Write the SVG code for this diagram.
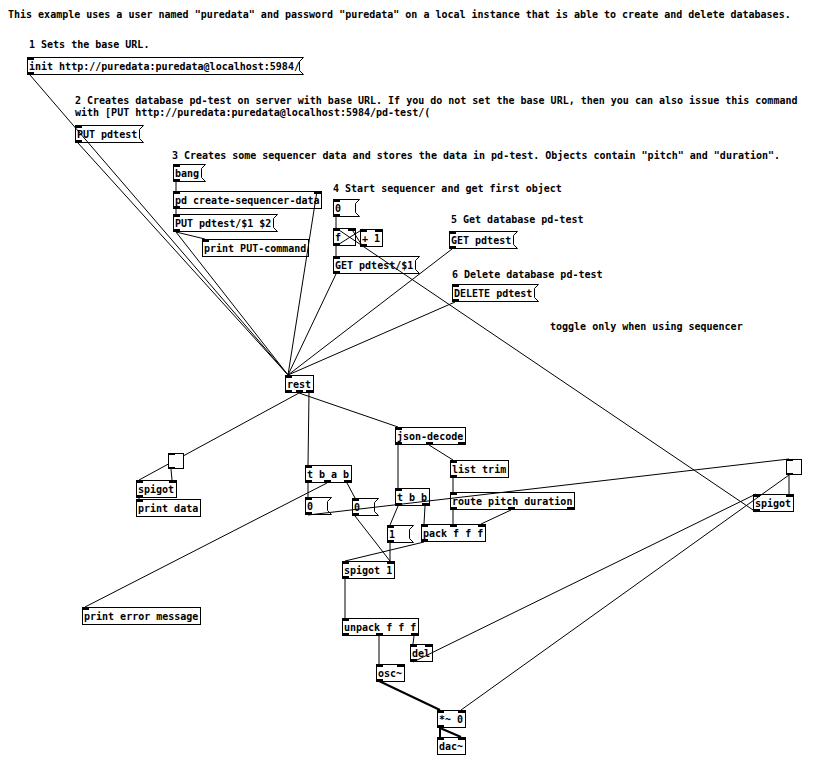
<svg xmlns="http://www.w3.org/2000/svg" width="832" height="783" viewBox="0 0 832 783">
<style>
.t{font-family:"DejaVu Sans Mono","Liberation Mono",monospace;font-size:10px;font-weight:bold;fill:#000}
.b{fill:none;stroke:#000;stroke-width:1}
.g{fill:#fcfcfc;stroke:#000;stroke-width:1}
.p{fill:#000}
.c line{stroke:#000;stroke-width:1}
.c line.s{stroke-width:2}
</style>
<rect width="832" height="783" fill="#fff"/>
<g id="comments">
<text class="t" x="8" y="18">This example uses a user named "puredata" and password "puredata" on a local instance that is able to create and delete databases.</text>
<text class="t" x="29" y="48">1 Sets the base URL.</text>
<text class="t" x="75" y="104">2 Creates database pd-test on server with base URL. If you do not set the base URL, then you can also issue this command</text>
<text class="t" x="75" y="116">with [PUT http://puredata:puredata@localhost:5984/pd-test/(</text>
<text class="t" x="172" y="159">3 Creates some sequencer data and stores the data in pd-test. Objects contain "pitch" and "duration".</text>
<text class="t" x="333" y="192">4 Start sequencer and get first object</text>
<text class="t" x="451" y="223">5 Get database pd-test</text>
<text class="t" x="452" y="278">6 Delete database pd-test</text>
<text class="t" x="550" y="330">toggle only when using sequencer</text>
</g>
<g id="connections" class="c">
<line x1="30" y1="75" x2="288" y2="375"/>
<line x1="78" y1="143" x2="288" y2="375"/>
<line x1="176" y1="182" x2="176" y2="191"/>
<line x1="176" y1="209" x2="176" y2="214"/>
<line x1="176" y1="232" x2="288" y2="375"/>
<line x1="176" y1="232" x2="205" y2="239"/>
<line x1="317" y1="191" x2="288" y2="375"/>
<line x1="336" y1="217" x2="336" y2="228"/>
<line x1="336" y1="246" x2="336" y2="256"/>
<line x1="336" y1="246" x2="363" y2="229"/>
<line x1="363" y1="247" x2="351" y2="228"/>
<line x1="336" y1="274" x2="288" y2="375"/>
<line x1="452" y1="249" x2="288" y2="375"/>
<line x1="455" y1="302" x2="288" y2="375"/>
<line x1="756" y1="512" x2="336" y2="228"/>
<line x1="299" y1="393" x2="139" y2="480"/>
<line x1="299" y1="393" x2="398" y2="427"/>
<line x1="309" y1="393" x2="308" y2="465"/>
<line x1="171" y1="469" x2="172" y2="480"/>
<line x1="139" y1="498" x2="139" y2="499"/>
<line x1="308" y1="483" x2="308" y2="497"/>
<line x1="327" y1="483" x2="85" y2="607"/>
<line x1="347" y1="483" x2="355" y2="498"/>
<line x1="308" y1="515" x2="789" y2="459"/>
<line x1="355" y1="516" x2="390" y2="561"/>
<line x1="398" y1="445" x2="398" y2="488"/>
<line x1="429" y1="445" x2="453" y2="460"/>
<line x1="453" y1="478" x2="453" y2="492"/>
<line x1="453" y1="510" x2="453" y2="524"/>
<line x1="511" y1="510" x2="481" y2="524"/>
<line x1="398" y1="506" x2="390" y2="525"/>
<line x1="425" y1="506" x2="424" y2="524"/>
<line x1="390" y1="543" x2="390" y2="561"/>
<line x1="424" y1="542" x2="345" y2="561"/>
<line x1="345" y1="579" x2="345" y2="618"/>
<line x1="379" y1="636" x2="379" y2="664"/>
<line x1="414" y1="636" x2="413" y2="644"/>
<line x1="413" y1="662" x2="756" y2="494"/>
<line class="s" x1="379" y1="681" x2="440" y2="710"/>
<line class="s" x1="440" y1="728" x2="440" y2="737"/>
<line class="s" x1="440" y1="728" x2="461" y2="737"/>
<line x1="789" y1="475" x2="789" y2="494"/>
<line x1="789" y1="475" x2="461" y2="710"/>
</g>
<g id="msg_init"><path class="b" d="M27.5 57.5H303.5L299.5 61.5V70.5L303.5 74.5H27.5Z"/><rect class="p" x="27" y="57" width="7" height="3"/><rect class="p" x="27" y="72" width="7" height="3"/><text class="t" x="29" y="69.5">init http://puredata:puredata@localhost:5984/</text></g>
<g id="msg_put_pdtest"><path class="b" d="M75.5 125.5H143.5L139.5 129.5V138.5L143.5 142.5H75.5Z"/><rect class="p" x="75" y="125" width="7" height="3"/><rect class="p" x="75" y="140" width="7" height="3"/><text class="t" x="77" y="137.5">PUT pdtest</text></g>
<g id="msg_bang"><path class="b" d="M173.5 164.5H205.5L201.5 168.5V177.5L205.5 181.5H173.5Z"/><rect class="p" x="173" y="164" width="7" height="3"/><rect class="p" x="173" y="179" width="7" height="3"/><text class="t" x="175" y="176.5">bang</text></g>
<g id="obj_pd_create"><rect class="b" x="173.5" y="191.5" width="148" height="17"/><rect class="p" x="173" y="191" width="7" height="3"/><rect class="p" x="314" y="191" width="7" height="3"/><rect class="p" x="173" y="206" width="7" height="3"/><text class="t" x="175" y="203.5">pd create-sequencer-data</text></g>
<g id="msg_put_seq"><path class="b" d="M173.5 214.5H277.5L273.5 218.5V227.5L277.5 231.5H173.5Z"/><rect class="p" x="173" y="214" width="7" height="3"/><rect class="p" x="173" y="229" width="7" height="3"/><text class="t" x="175" y="226.5">PUT pdtest/$1 $2</text></g>
<g id="obj_print_put"><rect class="b" x="202.5" y="239.5" width="106" height="17"/><rect class="p" x="202" y="239" width="7" height="3"/><text class="t" x="204" y="251.5">print PUT-command</text></g>
<g id="msg_0_seq"><path class="b" d="M333.5 199.5H359.5L355.5 203.5V212.5L359.5 216.5H333.5Z"/><rect class="p" x="333" y="199" width="7" height="3"/><rect class="p" x="333" y="214" width="7" height="3"/><text class="t" x="335" y="211.5">0</text></g>
<g id="obj_f"><rect class="b" x="333.5" y="228.5" width="22" height="17"/><rect class="p" x="333" y="228" width="7" height="3"/><rect class="p" x="348" y="228" width="7" height="3"/><rect class="p" x="333" y="243" width="7" height="3"/><text class="t" x="335" y="240.5">f</text></g>
<g id="obj_plus1"><rect class="b" x="360.5" y="229.5" width="22" height="17"/><rect class="p" x="360" y="229" width="7" height="3"/><rect class="p" x="375" y="229" width="7" height="3"/><rect class="p" x="360" y="244" width="7" height="3"/><text class="t" x="362" y="241.5">+ 1</text></g>
<g id="msg_get_seq"><path class="b" d="M333.5 256.5H419.5L415.5 260.5V269.5L419.5 273.5H333.5Z"/><rect class="p" x="333" y="256" width="7" height="3"/><rect class="p" x="333" y="271" width="7" height="3"/><text class="t" x="335" y="268.5">GET pdtest/$1</text></g>
<g id="msg_get"><path class="b" d="M449.5 231.5H517.5L513.5 235.5V244.5L517.5 248.5H449.5Z"/><rect class="p" x="449" y="231" width="7" height="3"/><rect class="p" x="449" y="246" width="7" height="3"/><text class="t" x="451" y="243.5">GET pdtest</text></g>
<g id="msg_delete"><path class="b" d="M452.5 284.5H538.5L534.5 288.5V297.5L538.5 301.5H452.5Z"/><rect class="p" x="452" y="284" width="7" height="3"/><rect class="p" x="452" y="299" width="7" height="3"/><text class="t" x="454" y="296.5">DELETE pdtest</text></g>
<g id="obj_rest"><rect class="b" x="285.5" y="375.5" width="28" height="17"/><rect class="p" x="285" y="375" width="7" height="3"/><rect class="p" x="285" y="390" width="7" height="3"/><rect class="p" x="296" y="390" width="7" height="3"/><rect class="p" x="306" y="390" width="7" height="3"/><text class="t" x="287" y="387.5">rest</text></g>
<g id="obj_json_decode"><rect class="b" x="395.5" y="427.5" width="70" height="17"/><rect class="p" x="395" y="427" width="7" height="3"/><rect class="p" x="395" y="442" width="7" height="3"/><rect class="p" x="426" y="442" width="7" height="3"/><rect class="p" x="458" y="442" width="7" height="3"/><text class="t" x="397" y="439.5">json-decode</text></g>
<g id="obj_list_trim"><rect class="b" x="450.5" y="460.5" width="58" height="17"/><rect class="p" x="450" y="460" width="7" height="3"/><rect class="p" x="450" y="475" width="7" height="3"/><text class="t" x="452" y="472.5">list trim</text></g>
<g id="tgl_left"><rect class="g" x="168.5" y="453.5" width="15" height="15"/><rect class="p" x="168" y="453" width="7" height="2"/><rect class="p" x="168" y="467" width="7" height="2"/></g>
<g id="obj_spigot_left"><rect class="b" x="136.5" y="480.5" width="40" height="17"/><rect class="p" x="136" y="480" width="7" height="3"/><rect class="p" x="169" y="480" width="7" height="3"/><rect class="p" x="136" y="495" width="7" height="3"/><text class="t" x="138" y="492.5">spigot</text></g>
<g id="obj_print_data"><rect class="b" x="136.5" y="499.5" width="64" height="17"/><rect class="p" x="136" y="499" width="7" height="3"/><text class="t" x="138" y="511.5">print data</text></g>
<g id="obj_t_b_a_b"><rect class="b" x="305.5" y="465.5" width="46" height="17"/><rect class="p" x="305" y="465" width="7" height="3"/><rect class="p" x="305" y="480" width="7" height="3"/><rect class="p" x="324" y="480" width="7" height="3"/><rect class="p" x="344" y="480" width="7" height="3"/><text class="t" x="307" y="477.5">t b a b</text></g>
<g id="msg_0_a"><path class="b" d="M305.5 497.5H331.5L327.5 501.5V510.5L331.5 514.5H305.5Z"/><rect class="p" x="305" y="497" width="7" height="3"/><rect class="p" x="305" y="512" width="7" height="3"/><text class="t" x="307" y="509.5">0</text></g>
<g id="msg_0_b"><path class="b" d="M352.5 498.5H378.5L374.5 502.5V511.5L378.5 515.5H352.5Z"/><rect class="p" x="352" y="498" width="7" height="3"/><rect class="p" x="352" y="513" width="7" height="3"/><text class="t" x="354" y="510.5">0</text></g>
<g id="obj_t_b_b"><rect class="b" x="395.5" y="488.5" width="34" height="17"/><rect class="p" x="395" y="488" width="7" height="3"/><rect class="p" x="395" y="503" width="7" height="3"/><rect class="p" x="422" y="503" width="7" height="3"/><text class="t" x="397" y="500.5">t b b</text></g>
<g id="obj_route"><rect class="b" x="450.5" y="492.5" width="124" height="17"/><rect class="p" x="450" y="492" width="7" height="3"/><rect class="p" x="450" y="507" width="7" height="3"/><rect class="p" x="508" y="507" width="7" height="3"/><rect class="p" x="567" y="507" width="7" height="3"/><text class="t" x="452" y="504.5">route pitch duration</text></g>
<g id="msg_1"><path class="b" d="M387.5 525.5H413.5L409.5 529.5V538.5L413.5 542.5H387.5Z"/><rect class="p" x="387" y="525" width="7" height="3"/><rect class="p" x="387" y="540" width="7" height="3"/><text class="t" x="389" y="537.5">1</text></g>
<g id="obj_pack"><rect class="b" x="421.5" y="524.5" width="64" height="17"/><rect class="p" x="421" y="524" width="7" height="3"/><rect class="p" x="450" y="524" width="7" height="3"/><rect class="p" x="478" y="524" width="7" height="3"/><rect class="p" x="421" y="539" width="7" height="3"/><text class="t" x="423" y="536.5">pack f f f</text></g>
<g id="obj_spigot1"><rect class="b" x="342.5" y="561.5" width="52" height="17"/><rect class="p" x="342" y="561" width="7" height="3"/><rect class="p" x="387" y="561" width="7" height="3"/><rect class="p" x="342" y="576" width="7" height="3"/><text class="t" x="344" y="573.5">spigot 1</text></g>
<g id="obj_print_error"><rect class="b" x="82.5" y="607.5" width="118" height="17"/><rect class="p" x="82" y="607" width="7" height="3"/><text class="t" x="84" y="619.5">print error message</text></g>
<g id="obj_unpack"><rect class="b" x="342.5" y="618.5" width="76" height="17"/><rect class="p" x="342" y="618" width="7" height="3"/><rect class="p" x="342" y="633" width="7" height="3"/><rect class="p" x="376" y="633" width="7" height="3"/><rect class="p" x="411" y="633" width="7" height="3"/><text class="t" x="344" y="630.5">unpack f f f</text></g>
<g id="obj_del"><rect class="b" x="410.5" y="644.5" width="22" height="17"/><rect class="p" x="410" y="644" width="7" height="3"/><rect class="p" x="425" y="644" width="7" height="3"/><rect class="p" x="410" y="659" width="7" height="3"/><text class="t" x="412" y="656.5">del</text></g>
<g id="obj_osc"><rect class="b" x="376.5" y="664.5" width="28" height="17"/><rect class="p" x="376" y="664" width="7" height="3"/><rect class="p" x="397" y="664" width="7" height="3"/><rect class="p" x="376" y="679" width="7" height="3"/><text class="t" x="378" y="676.5">osc~</text></g>
<g id="obj_mul"><rect class="b" x="437.5" y="710.5" width="28" height="17"/><rect class="p" x="437" y="710" width="7" height="3"/><rect class="p" x="458" y="710" width="7" height="3"/><rect class="p" x="437" y="725" width="7" height="3"/><text class="t" x="439" y="722.5">*~ 0</text></g>
<g id="obj_dac"><rect class="b" x="437.5" y="737.5" width="28" height="17"/><rect class="p" x="437" y="737" width="7" height="3"/><rect class="p" x="458" y="737" width="7" height="3"/><text class="t" x="439" y="749.5">dac~</text></g>
<g id="tgl_right"><rect class="g" x="786.5" y="459.5" width="15" height="15"/><rect class="p" x="786" y="459" width="7" height="2"/><rect class="p" x="786" y="473" width="7" height="2"/></g>
<g id="obj_spigot_right"><rect class="b" x="753.5" y="494.5" width="40" height="17"/><rect class="p" x="753" y="494" width="7" height="3"/><rect class="p" x="786" y="494" width="7" height="3"/><rect class="p" x="753" y="509" width="7" height="3"/><text class="t" x="755" y="506.5">spigot</text></g>
</svg>
